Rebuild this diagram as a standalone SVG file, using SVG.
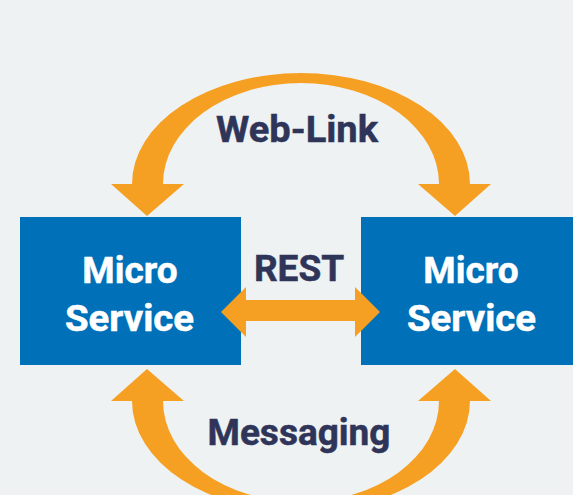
<svg xmlns="http://www.w3.org/2000/svg" width="573" height="495" viewBox="0 0 573 495">
<style>
.box{fill:#0070b8}
.arrow{fill:#f6a023}
text{font-family:"Roboto","Liberation Sans",sans-serif;font-weight:700;text-anchor:middle;stroke-width:.5px}
.w{fill:#fff;stroke:#fff;font-size:37px}
.d{fill:#2f3559;stroke:#2f3559;font-size:37px}
</style>
<defs>
<path id="arc" d="M111 184H132A169 111 0 0 1 470 184H491L455 216L418 184H439A138 101 0 0 0 163 184H184L147 216Z"/>
</defs>
<rect width="573" height="495" fill="#eef2f3"/>
<g id="node-left">
<rect class="box" x="20" y="217" width="221" height="148"/>
<text class="w" x="130" y="283">Micro</text>
<text class="w" x="129.500" y="331" textLength="129" lengthAdjust="spacingAndGlyphs">Service</text>
</g>
<g id="node-right">
<rect class="box" x="361" y="217" width="212" height="148"/>
<text class="w" x="471" y="283">Micro</text>
<text class="w" x="471.500" y="331" textLength="129" lengthAdjust="spacingAndGlyphs">Service</text>
</g>
<g id="connectors">
<use href="#arc" class="arrow"/>
<use href="#arc" class="arrow" transform="matrix(1 0 0 -1 0 585)"/>
<path class="arrow" d="M221 312L246 287V300H355V287L380 312L355 337V321H246V337Z"/>
</g>
<g id="label-weblink"><text class="d" x="297" y="142" textLength="162" lengthAdjust="spacingAndGlyphs">Web-Link</text></g>
<g id="label-rest"><text class="d" x="299" y="281">REST</text></g>
<g id="label-messaging"><text class="d" x="299" y="445">Messaging</text></g>
</svg>
